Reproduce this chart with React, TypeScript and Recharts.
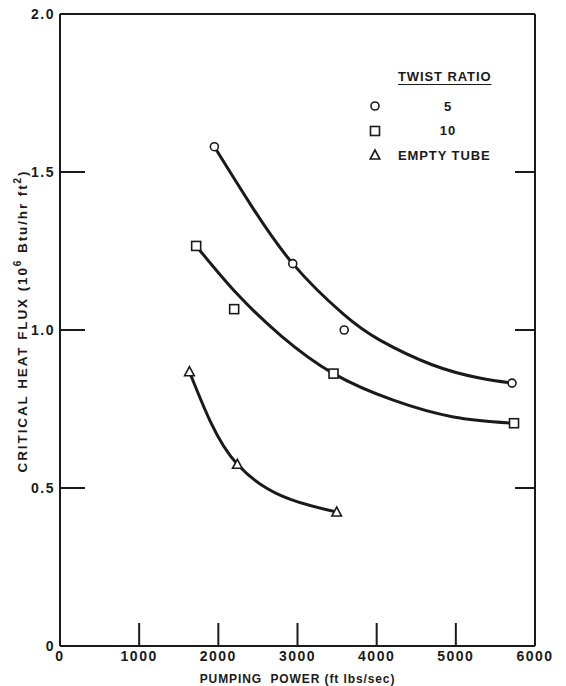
import { ComposedChart, Legend, Line, Scatter, XAxis, YAxis } from "recharts";

const xTicks = [0, 1000, 2000, 3000, 4000, 5000, 6000];
const yTicks = [0, 0.5, 1.0, 1.5, 2.0];

// measured points
const twist5Points = [
  { x: 1950, y: 1.58 },
  { x: 2940, y: 1.21 },
  { x: 3590, y: 1.0 },
  { x: 5710, y: 0.832 },
];
const twist10Points = [
  { x: 1720, y: 1.266 },
  { x: 2200, y: 1.066 },
  { x: 3455, y: 0.862 },
  { x: 5735, y: 0.705 },
];
const emptyTubePoints = [
  { x: 1635, y: 0.868 },
  { x: 2240, y: 0.575 },
  { x: 3495, y: 0.424 },
];

// faired curves
const twist5Curve = [
  { x: 1950, y: 1.58 },
  { x: 2400, y: 1.4 },
  { x: 2940, y: 1.21 },
  { x: 3580, y: 1.05 },
  { x: 4040, y: 0.968 },
  { x: 4700, y: 0.89 },
  { x: 5300, y: 0.848 },
  { x: 5710, y: 0.832 },
];
const twist10Curve = [
  { x: 1720, y: 1.266 },
  { x: 2230, y: 1.116 },
  { x: 2800, y: 0.98 },
  { x: 3455, y: 0.862 },
  { x: 4210, y: 0.778 },
  { x: 4970, y: 0.725 },
  { x: 5735, y: 0.705 },
];
const emptyTubeCurve = [
  { x: 1635, y: 0.868 },
  { x: 1900, y: 0.71 },
  { x: 2240, y: 0.575 },
  { x: 2800, y: 0.475 },
  { x: 3495, y: 0.424 },
];

const legendTitle = "TWIST RATIO";
const legendItems = [
  { mark: "circle", label: "5" },
  { mark: "square", label: "10" },
  { mark: "triangle", label: "EMPTY TUBE" },
];

const INK = "#1a1a1a";
const FONT = "'Liberation Sans', Arial, sans-serif";
const tickStyle = {
  fontFamily: FONT,
  fontSize: 14,
  fontWeight: 700,
  fill: INK,
  letterSpacing: 1.5,
};

function Mark({ kind, cx, cy }: { kind: string; cx: number; cy: number }) {
  const common = { fill: "#fff", stroke: INK, strokeWidth: 1.6 };
  if (kind === "circle") return <circle cx={cx} cy={cy} r={4} {...common} />;
  if (kind === "square")
    return <rect x={cx - 4.5} y={cy - 4.5} width={9} height={9} {...common} />;
  return (
    <polygon
      points={`${cx},${cy - 5} ${cx - 4.8},${cy + 4} ${cx + 4.8},${cy + 4}`}
      {...common}
    />
  );
}

const shapeFor = (kind: string) => (p: any) => (
  <Mark kind={kind} cx={p.cx} cy={p.cy} />
);

function LegendBox() {
  return (
    <div style={{ fontFamily: FONT, fontWeight: 700, fontSize: 13, color: INK, letterSpacing: 0.9 }}>
      <div style={{ marginLeft: 38, textDecoration: "underline", textUnderlineOffset: 3, height: 25 }}>
        {legendTitle}
      </div>
      {legendItems.map((it) => (
        <div key={it.label} style={{ display: "flex", alignItems: "center", height: 24.5 }}>
          <svg width={14} height={14} style={{ marginLeft: 8 }}>
            <Mark kind={it.mark} cx={7} cy={7} />
          </svg>
          <span
            style={{
              marginLeft: it.label.length > 2 ? 16 : 0,
              width: it.label.length > 2 ? undefined : 132,
              textAlign: it.label.length > 2 ? "left" : "center",
            }}
          >
            {it.label}
          </span>
        </div>
      ))}
    </div>
  );
}

function YLabel(props: any) {
  const vb = props.viewBox;
  const cx = vb.x + 22;
  const cy = vb.y + vb.height / 2 - 9;
  return (
    <text
      x={cx}
      y={cy}
      transform={`rotate(-90 ${cx} ${cy})`}
      textAnchor="middle"
      dominantBaseline="central"
      style={{ ...tickStyle, fontSize: 13.5, letterSpacing: 1.9 }}
    >
      CRITICAL HEAT FLUX (10
      <tspan dy={-5} fontSize={10}>6</tspan>
      <tspan dy={5}> Btu/hr ft</tspan>
      <tspan dy={-5} fontSize={10}>2</tspan>
      <tspan dy={5}>)</tspan>
    </text>
  );
}

function XLabel(props: any) {
  const vb = props.viewBox;
  return (
    <text
      x={vb.x + vb.width / 2}
      y={vb.y + 37}
      textAnchor="middle"
      style={{ ...tickStyle, fontSize: 12, letterSpacing: 0.9 }}
    >
      PUMPING&#160;&#160;POWER (ft lbs/sec)
    </text>
  );
}

export default function App() {
  return (
    <div style={{ position: "absolute", left: 0, top: 0, background: "#fff" }}>
      <ComposedChart width={566} height={686} margin={{ top: 13, right: 30, bottom: 0, left: 0 }}>
        <XAxis
          dataKey="x"
          type="number"
          domain={[0, 6000]}
          ticks={xTicks}
          height={40}
          stroke={INK}
          strokeWidth={2}
          tickSize={-23}
          tickMargin={28}
          tick={tickStyle}
          label={<XLabel />}
        />
        <XAxis
          xAxisId="top"
          orientation="top"
          type="number"
          domain={[0, 6000]}
          allowDataOverflow
          ticks={xTicks}
          height={1}
          stroke={INK}
          strokeWidth={2}
          tickSize={-24}
          tickFormatter={() => ""}
        />
        <YAxis
          dataKey="y"
          type="number"
          domain={[0, 2]}
          ticks={yTicks}
          width={60}
          stroke={INK}
          strokeWidth={2}
          tickSize={-25}
          tickMargin={30}
          tick={tickStyle}
          tickFormatter={(v: number) => (v === 0 ? "0" : v.toFixed(1))}
          label={<YLabel />}
        />
        <YAxis
          yAxisId="right"
          orientation="right"
          type="number"
          domain={[0, 2]}
          allowDataOverflow
          ticks={yTicks}
          width={1}
          stroke={INK}
          strokeWidth={2}
          tickSize={-20}
          tickFormatter={() => ""}
        />
        <Line data={twist5Curve} dataKey="y" type="natural" stroke={INK} strokeWidth={3} dot={false} isAnimationActive={false} />
        <Line data={twist10Curve} dataKey="y" type="natural" stroke={INK} strokeWidth={3} dot={false} isAnimationActive={false} />
        <Line data={emptyTubeCurve} dataKey="y" type="natural" stroke={INK} strokeWidth={3} dot={false} isAnimationActive={false} />
        <Scatter data={twist5Points} dataKey="y" shape={shapeFor("circle")} isAnimationActive={false} />
        <Scatter data={twist10Points} dataKey="y" shape={shapeFor("square")} isAnimationActive={false} />
        <Scatter data={emptyTubePoints} dataKey="y" shape={shapeFor("triangle")} isAnimationActive={false} />
        <Legend
          layout="horizontal"
          verticalAlign="middle"
          align="center"
          content={<LegendBox />}
          wrapperStyle={{ position: "absolute", left: 360, top: 69, width: 175 }}
        />
      </ComposedChart>
    </div>
  );
}
